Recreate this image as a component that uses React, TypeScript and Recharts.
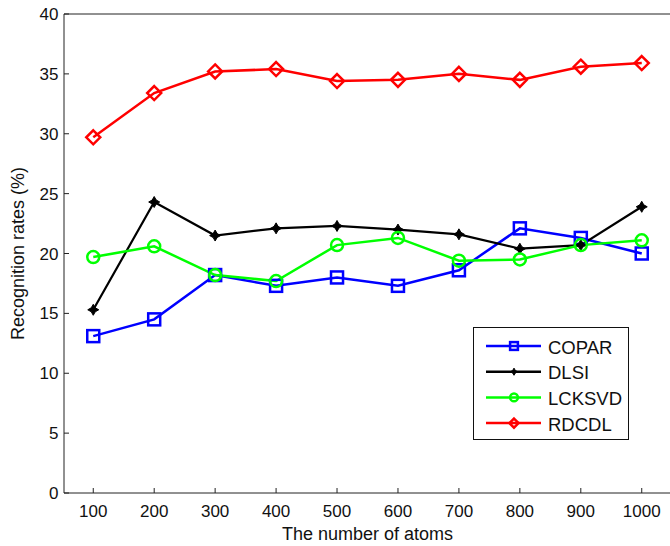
import React from "react"
import { LineChart, Line, XAxis, YAxis, Label } from "recharts"

const atoms = [100, 200, 300, 400, 500, 600, 700, 800, 900, 1000]
const copar = [13.1, 14.5, 18.2, 17.3, 18.0, 17.3, 18.6, 22.1, 21.3, 20.0]
const dlsi = [15.3, 24.3, 21.5, 22.1, 22.3, 22.0, 21.6, 20.4, 20.7, 23.9]
const lcksvd = [19.7, 20.6, 18.2, 17.7, 20.7, 21.3, 19.4, 19.5, 20.7, 21.1]
const rdcdl = [29.7, 33.4, 35.2, 35.4, 34.4, 34.5, 35.0, 34.5, 35.6, 35.9]
const yTicks = [0, 5, 10, 15, 20, 25, 30, 35, 40]

const seriesKeys = ["copar", "dlsi", "lcksvd", "rdcdl"]
const seriesNames = ["COPAR", "DLSI", "LCKSVD", "RDCDL"]
const seriesColors = ["#0000ff", "#000000", "#00ff00", "#ff0000"]
const seriesMarkers = ["square", "star", "circle", "diamond"]

const data = atoms.map((x, i) => ({
  x,
  copar: copar[i],
  dlsi: dlsi[i],
  lcksvd: lcksvd[i],
  rdcdl: rdcdl[i],
}))

const FONT = "'Liberation Sans', Arial, Helvetica, sans-serif"

function Marker({ kind, cx, cy, color, s = 1 }: { kind: string; cx: number; cy: number; color: string; s?: number }) {
  if (kind === "square") {
    const h = 6 * s
    return <rect x={cx - h} y={cy - h} width={2 * h} height={2 * h} fill="none" stroke={color} strokeWidth={2.5} />
  }
  if (kind === "circle") {
    return <circle cx={cx} cy={cy} r={6 * s} fill="none" stroke={color} strokeWidth={2.5} />
  }
  if (kind === "diamond") {
    const h = 7 * s
    return (
      <polygon
        points={`${cx},${cy - h} ${cx + h},${cy} ${cx},${cy + h} ${cx - h},${cy}`}
        fill="none"
        stroke={color}
        strokeWidth={2.5}
      />
    )
  }
  const a = 5.5 * s
  const b = 2 * s
  return (
    <polygon
      points={`${cx},${cy - a} ${cx + b},${cy - b} ${cx + a},${cy} ${cx + b},${cy + b} ${cx},${cy + a} ${cx - b},${cy + b} ${cx - a},${cy} ${cx - b},${cy - b}`}
      fill={color}
      stroke={color}
      strokeWidth={1}
    />
  )
}

function LegendBox() {
  return (
    <div
      style={{
        position: "absolute",
        left: 473,
        top: 327,
        width: 154,
        height: 111,
        border: "1px solid #111",
        background: "#fff",
      }}
    >
      <svg width={154} height={111}>
        {seriesNames.map((name, i) => {
          const y = 18 + i * 25.7
          return (
            <g key={name}>
              <line x1={12} x2={67} y1={y} y2={y} stroke={seriesColors[i]} strokeWidth={2.5} />
              <Marker kind={seriesMarkers[i]} cx={40} cy={y} color={seriesColors[i]} s={0.65} />
              <text x={74} y={y + 1} dominantBaseline="central" fontSize={18.5} fontFamily={FONT} fill="#111">
                {name}
              </text>
            </g>
          )
        })}
      </svg>
    </div>
  )
}

export default function App() {
  return (
    <div
      style={{
        position: "absolute",
        left: 0,
        top: 0,
        width: 670,
        height: 546,
        overflow: "hidden",
        background: "#fff",
      }}
    >
      <LineChart width={680} height={546} data={data} margin={{ top: 13, right: 8, bottom: 0, left: 0 }}>
        <XAxis
          dataKey="x"
          type="number"
          domain={[52, 1048]}
          ticks={atoms}
          interval={0}
          allowDataOverflow
          height={53}
          tickSize={-5}
          tickMargin={17}
          axisLine={{ stroke: "#222" }}
          tickLine={{ stroke: "#222" }}
          tick={{ fill: "#111", fontSize: 17, fontFamily: FONT }}
        >
          <Label
            value="The number of atoms"
            position="insideBottom"
            offset={6}
            style={{ fontSize: 18, fontFamily: FONT, fill: "#111" }}
          />
        </XAxis>
        <XAxis
          xAxisId="top"
          orientation="top"
          dataKey="x"
          type="number"
          domain={[52, 1048]}
          ticks={atoms}
          interval={0}
          allowDataOverflow
          height={1}
          tickSize={-5}
          tick={false}
          axisLine={{ stroke: "#222" }}
          tickLine={{ stroke: "#222" }}
        />
        <YAxis
          type="number"
          domain={[0, 40]}
          ticks={yTicks}
          interval={0}
          width={64}
          tickSize={-5}
          tickMargin={10.5}
          axisLine={{ stroke: "#222" }}
          tickLine={{ stroke: "#222" }}
          tick={{ fill: "#111", fontSize: 17, fontFamily: FONT }}
        >
          <Label
            content={(props: any) => {
              const vb = props.viewBox || { y: 14, height: 479 }
              const cy = vb.y + vb.height / 2
              return (
                <text
                  x={18}
                  y={cy}
                  transform={`rotate(-90 18 ${cy})`}
                  textAnchor="middle"
                  dominantBaseline="central"
                  fontSize={18}
                  fontFamily={FONT}
                  fill="#111"
                >
                  Recognition rates (%)
                </text>
              )
            }}
          />
        </YAxis>
        <YAxis
          yAxisId="right"
          orientation="right"
          type="number"
          domain={[0, 40]}
          ticks={yTicks}
          interval={0}
          width={1}
          tickSize={-5}
          tick={false}
          axisLine={{ stroke: "#222" }}
          tickLine={{ stroke: "#222" }}
        />
        {seriesKeys.map((key, i) => (
          <Line
            key={key}
            dataKey={key}
            name={seriesNames[i]}
            stroke={seriesColors[i]}
            strokeWidth={i === 1 ? 2.2 : 2.5}
            isAnimationActive={false}
            dot={(p: any) => (
              <Marker key={`${key}-${p.index}`} kind={seriesMarkers[i]} cx={p.cx} cy={p.cy} color={seriesColors[i]} />
            )}
            activeDot={false}
          />
        ))}
      </LineChart>
      <LegendBox />
    </div>
  )
}
